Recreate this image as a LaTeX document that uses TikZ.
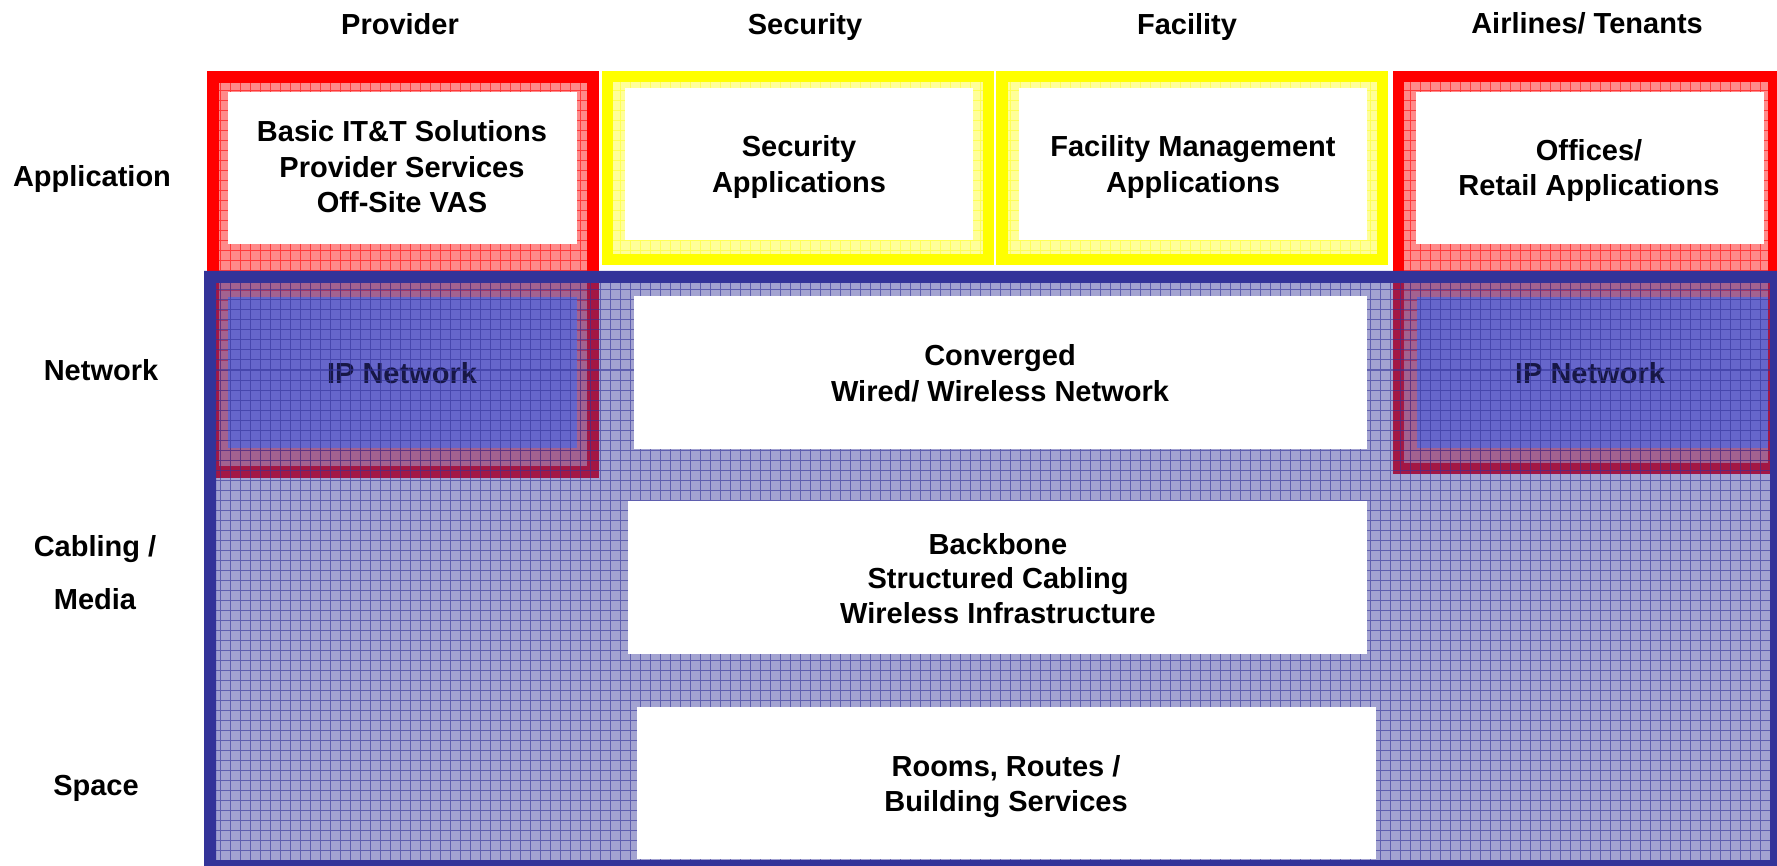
\documentclass[tikz,border=0pt]{standalone}
\usepackage{fontspec}
\setmainfont{Liberation Sans}
\definecolor{frameRed}{HTML}{FF0000}
\definecolor{hatchRed}{HTML}{FF8A8A}
\definecolor{gridRed}{HTML}{FF3A3A}
\definecolor{frameYellow}{HTML}{FFFF00}
\definecolor{hatchYellow}{HTML}{FFFF99}
\definecolor{gridYellow}{HTML}{FFFF55}
\definecolor{navy}{HTML}{333399}
\definecolor{ipPanel}{HTML}{9090F5}
\tikzset{
  txt/.style={font=\bfseries\fontsize{29}{35}\selectfont, inner sep=0pt, anchor=base},
  panel/.style={fill=white, inner sep=0pt, anchor=north west},
  ippanel/.style={fill=ipPanel, inner sep=0pt, anchor=north west},
  redhatch/.style={fill=hatchRed, path picture={\draw[gridRed, line width=0.8pt, step=10pt]
      (path picture bounding box.south west) grid (path picture bounding box.north east);}},
  yellowhatch/.style={fill=hatchYellow, path picture={\draw[gridYellow, line width=0.8pt, step=10pt]
      (path picture bounding box.south west) grid (path picture bounding box.north east);}},
}
\begin{document}
\begin{tikzpicture}[x=1pt,y=-1pt]
\useasboundingbox (0,0) rectangle (1777,866);
\clip (0,0) rectangle (1777,866);
\fill[white] (0,0) rectangle (1777,866);

% ---- column headings
\node[txt] (hProv) at (400,35) {Provider};
\node[txt] (hSec)  at (805,35) {Security};
\node[txt] (hFac)  at (1187,35) {Facility};
\node[txt] (hAir)  at (1587,34) {Airlines/ Tenants};

% ---- row labels
\node[txt] (rApp)  at (92,187) {Application};
\node[txt] (rNet)  at (101,381) {Network};
\node[txt] (rCab)  at (95,556) {Cabling /};
\node[txt] (rMed)  at (95,609) {Media};
\node[txt] (rSpa)  at (96,795) {Space};

% ---- provider column (red frame, application + network panels)
\fill[frameRed] (207,71) rectangle (599,478);
\path[redhatch] (219,83) rectangle (587,466);
\node[panel, minimum width=349pt, minimum height=152pt] (pApp) at (228,92) {};
\node[txt] (pApp1) at (402,142) {Basic IT\&T Solutions};
\node[txt] (pApp2) at (402,178) {Provider Services};
\node[txt] (pApp3) at (402,213) {Off-Site VAS};
\node[ippanel, minimum width=349pt, minimum height=151pt] (pNet) at (228,297) {};
\node[txt] (pNet1) at (402,383) {IP Network};

% ---- security column (yellow frame)
\fill[frameYellow] (602,71) rectangle (994,265);
\path[yellowhatch] (613,82) rectangle (983,254);
\node[panel, minimum width=348pt, minimum height=152pt] (sApp) at (625,88) {};
\node[txt] (sApp1) at (799,157) {Security};
\node[txt] (sApp2) at (799,193) {Applications};

% ---- facility column (yellow frame)
\fill[frameYellow] (996,71) rectangle (1388,265);
\path[yellowhatch] (1008,82) rectangle (1377,254);
\node[panel, minimum width=348pt, minimum height=152pt] (fApp) at (1019,88) {};
\node[txt] (fApp1) at (1193,157) {Facility Management};
\node[txt] (fApp2) at (1193,193) {Applications};

% ---- airlines / tenants column (red frame)
\fill[frameRed] (1393,71) rectangle (1780,474);
\path[redhatch] (1404,82) rectangle (1768,463);
\node[panel, minimum width=348pt, minimum height=152pt] (tApp) at (1416,92) {};
\node[txt] (tApp1) at (1589,161) {Offices/};
\node[txt] (tApp2) at (1589,196) {Retail Applications};
\node[ippanel, minimum width=351pt, minimum height=151pt] (tNet) at (1417,297) {};
\node[txt] (tNet1) at (1590,383) {IP Network};

% ---- shared infrastructure (translucent blue layer with grid)
\fill[navy, fill opacity=0.45] (216,283) rectangle (1770,860);
\draw[navy, opacity=0.6, line width=1pt, step=10pt] (216,283) grid (1770,860);
\fill[navy, even odd rule] (204,271) rectangle (1782,872) (216,283) rectangle (1770,860);

% ---- infrastructure panels
\node[panel, minimum width=733pt, minimum height=153pt] (cNet) at (634,296) {};
\node[txt] (cNet1) at (1000,366) {Converged};
\node[txt] (cNet2) at (1000,401) {Wired/ Wireless Network};

\node[panel, minimum width=739pt, minimum height=153pt] (cCab) at (628,501) {};
\node[txt] (cCab1) at (998,554) {Backbone};
\node[txt] (cCab2) at (998,588) {Structured Cabling};
\node[txt] (cCab3) at (998,623) {Wireless Infrastructure};

\node[panel, minimum width=739pt, minimum height=152pt] (cSpa) at (637,707) {};
\node[txt] (cSpa1) at (1006,776) {Rooms, Routes /};
\node[txt] (cSpa2) at (1006,811) {Building Services};
\end{tikzpicture}
\end{document}
